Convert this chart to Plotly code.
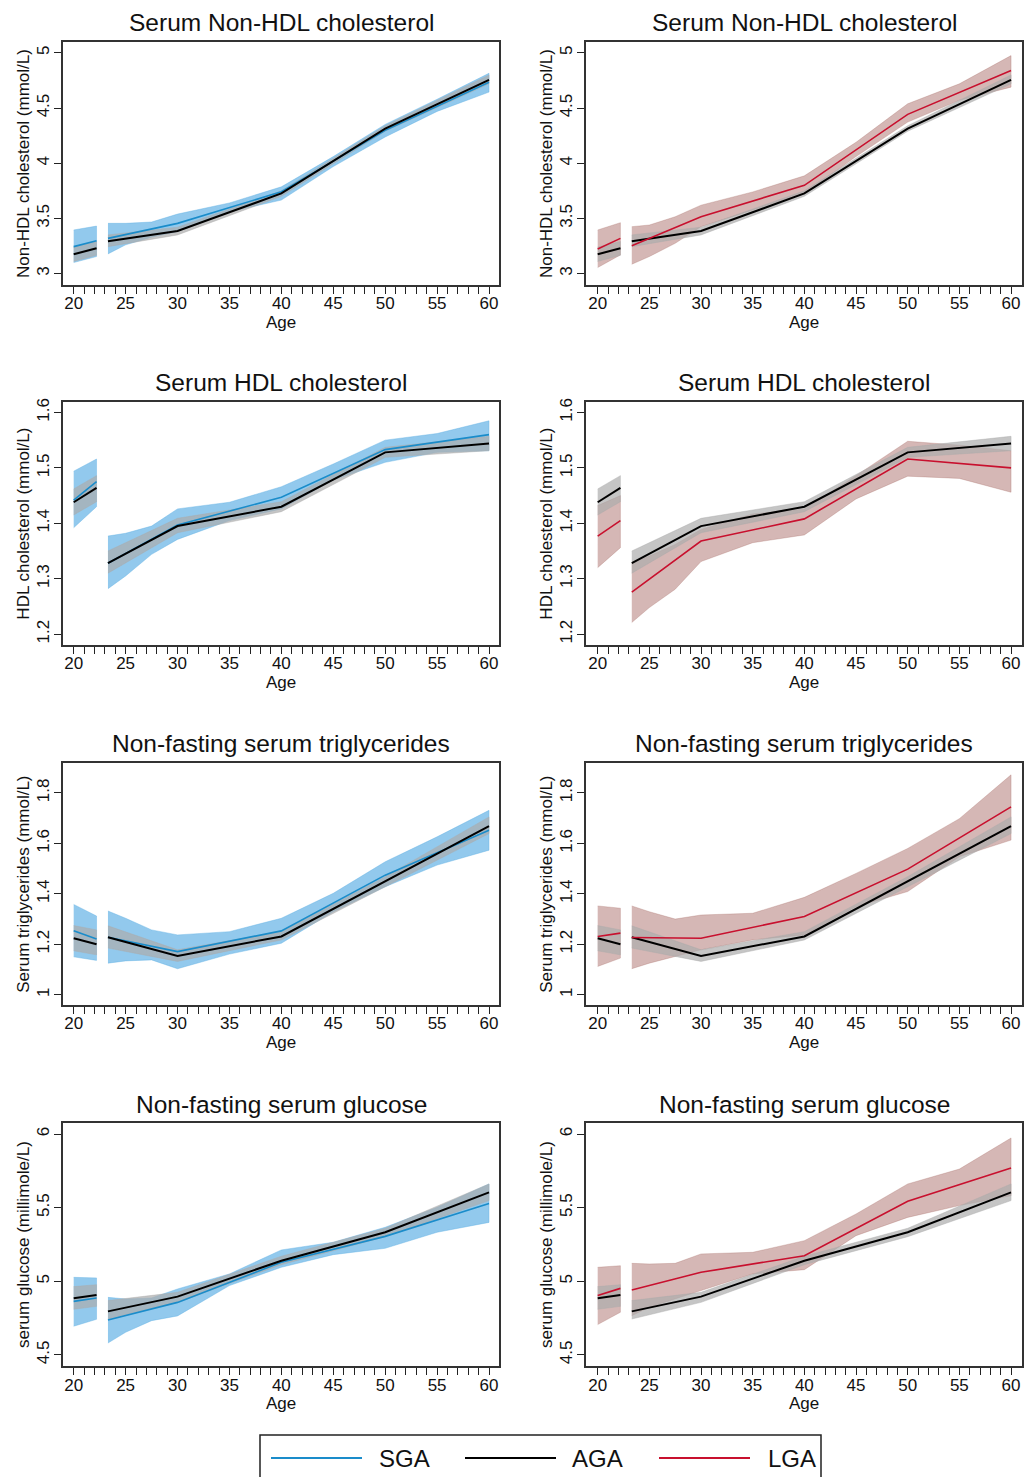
import plotly.graph_objects as go

# ---------------- data ----------------
AGE_S1 = [20, 22.2]                                   # first segment
AGE_S2 = [23.3, 30, 40, 50, 60]                       # second segment (lines, AGA bands)
AGE_B2 = [23.3, 25, 27.5, 30, 35, 40, 45, 50, 55, 60] # second segment (SGA / LGA bands)

X_TICKS = [20, 25, 30, 35, 40, 45, 50, 55, 60]

PANEL_TITLES = ["Serum Non-HDL cholesterol", "Serum HDL cholesterol",
                "Non-fasting serum triglycerides", "Non-fasting serum glucose"]
Y_TITLES = ["Non-HDL cholesterol (mmol/L)", "HDL cholesterol (mmol/L)",
            "Serum triglycerides (mmol/L)", "serum glucose (millimole/L)"]
Y_TICKS = [[3, 3.5, 4, 4.5, 5], [1.2, 1.3, 1.4, 1.5, 1.6],
           [1, 1.2, 1.4, 1.6, 1.8], [4.5, 5, 5.5, 6]]
Y_TICKTEXT = [["3", "3.5", "4", "4.5", "5"], ["1.2", "1.3", "1.4", "1.5", "1.6"],
              ["1", "1.2", "1.4", "1.6", "1.8"], ["4.5", "5", "5.5", "6"]]
Y_RANGES = [[2.894, 5.10], [1.180, 1.619], [0.958, 1.919], [4.423, 6.075]]

# --- Non-HDL cholesterol ---
aga_nonhdl_s1 = [3.175, 3.229]
aga_nonhdl_s1_lo = [3.11, 3.165]
aga_nonhdl_s1_hi = [3.24, 3.29]
aga_nonhdl_s2 = [3.292, 3.386, 3.726, 4.313, 4.756]
aga_nonhdl_s2_lo = [3.244, 3.35, 3.70, 4.29, 4.72]
aga_nonhdl_s2_hi = [3.35, 3.42, 3.75, 4.34, 4.80]

sga_nonhdl_s1 = [3.244, 3.298]
sga_nonhdl_s1_lo = [3.10, 3.154]
sga_nonhdl_s1_hi = [3.395, 3.43]
sga_nonhdl_s2 = [3.319, 3.455, 3.741, 4.298, 4.735]
sga_nonhdl_s2_lo = [3.178, 3.26, 3.33, 3.38, 3.56, 3.666, 3.97, 4.238, 4.47, 4.645]
sga_nonhdl_s2_hi = [3.455, 3.455, 3.467, 3.539, 3.64, 3.786, 4.06, 4.352, 4.58, 4.816]

lga_nonhdl_s1 = [3.223, 3.319]
lga_nonhdl_s1_lo = [3.054, 3.169]
lga_nonhdl_s1_hi = [3.395, 3.461]
lga_nonhdl_s2 = [3.253, 3.515, 3.80, 4.443, 4.84]
lga_nonhdl_s2_lo = [3.084, 3.154, 3.274, 3.425, 3.575, 3.726, 4.06, 4.373, 4.57, 4.69]
lga_nonhdl_s2_hi = [3.425, 3.44, 3.515, 3.62, 3.74, 3.886, 4.19, 4.539, 4.72, 4.976]

# --- HDL cholesterol ---
aga_hdl_s1 = [1.438, 1.464]
aga_hdl_s1_lo = [1.415, 1.439]
aga_hdl_s1_hi = [1.462, 1.486]
aga_hdl_s2 = [1.328, 1.395, 1.430, 1.528, 1.544]
aga_hdl_s2_lo = [1.310, 1.383, 1.421, 1.519, 1.531]
aga_hdl_s2_hi = [1.350, 1.409, 1.439, 1.537, 1.557]

sga_hdl_s1 = [1.442, 1.475]
sga_hdl_s1_lo = [1.392, 1.430]
sga_hdl_s1_hi = [1.494, 1.516]
sga_hdl_s2 = [1.328, 1.397, 1.447, 1.533, 1.560]
sga_hdl_s2_lo = [1.282, 1.305, 1.344, 1.371, 1.405, 1.426, 1.478, 1.510, 1.528, 1.531]
sga_hdl_s2_hi = [1.377, 1.382, 1.395, 1.426, 1.438, 1.466, 1.507, 1.550, 1.562, 1.585]

lga_hdl_s1 = [1.377, 1.405]
lga_hdl_s1_lo = [1.320, 1.356]
lga_hdl_s1_hi = [1.432, 1.450]
lga_hdl_s2 = [1.276, 1.368, 1.408, 1.516, 1.500]
lga_hdl_s2_lo = [1.221, 1.248, 1.281, 1.331, 1.365, 1.379, 1.444, 1.485, 1.481, 1.456]
lga_hdl_s2_hi = [1.329, 1.341, 1.362, 1.389, 1.417, 1.426, 1.486, 1.548, 1.541, 1.531]

# --- Triglycerides ---
aga_tg_s1 = [1.224, 1.200]
aga_tg_s1_lo = [1.174, 1.158]
aga_tg_s1_hi = [1.274, 1.257]
aga_tg_s2 = [1.228, 1.154, 1.231, 1.448, 1.668]
aga_tg_s2_lo = [1.185, 1.132, 1.217, 1.428, 1.639]
aga_tg_s2_hi = [1.273, 1.178, 1.250, 1.468, 1.705]

sga_tg_s1 = [1.254, 1.221]
sga_tg_s1_lo = [1.150, 1.136]
sga_tg_s1_hi = [1.358, 1.312]
sga_tg_s2 = [1.228, 1.171, 1.253, 1.474, 1.652]
sga_tg_s2_lo = [1.125, 1.134, 1.138, 1.103, 1.161, 1.204, 1.329, 1.428, 1.514, 1.573]
sga_tg_s2_hi = [1.332, 1.303, 1.257, 1.237, 1.250, 1.303, 1.402, 1.527, 1.626, 1.731]

lga_tg_s1 = [1.231, 1.244]
lga_tg_s1_lo = [1.112, 1.145]
lga_tg_s1_hi = [1.352, 1.343]
lga_tg_s2 = [1.227, 1.224, 1.310, 1.498, 1.745]
lga_tg_s2_lo = [1.103, 1.125, 1.152, 1.178, 1.217, 1.237, 1.349, 1.409, 1.547, 1.613]
lga_tg_s2_hi = [1.352, 1.329, 1.300, 1.316, 1.323, 1.386, 1.481, 1.580, 1.698, 1.872]

# --- Glucose ---
aga_glu_s1 = [4.885, 4.907]
aga_glu_s1_lo = [4.810, 4.830]
aga_glu_s1_hi = [4.964, 4.977]
aga_glu_s2 = [4.796, 4.896, 5.140, 5.333, 5.604]
aga_glu_s2_lo = [4.744, 4.857, 5.113, 5.303, 5.548]
aga_glu_s2_hi = [4.869, 4.925, 5.170, 5.360, 5.661]

sga_glu_s1 = [4.864, 4.887]
sga_glu_s1_lo = [4.695, 4.742]
sga_glu_s1_hi = [5.027, 5.023]
sga_glu_s2 = [4.738, 4.857, 5.129, 5.305, 5.529]
sga_glu_s2_lo = [4.581, 4.654, 4.733, 4.765, 4.971, 5.095, 5.181, 5.224, 5.333, 5.400]
sga_glu_s2_hi = [4.891, 4.880, 4.887, 4.948, 5.050, 5.213, 5.265, 5.367, 5.502, 5.661]

lga_glu_s1 = [4.903, 4.952]
lga_glu_s1_lo = [4.706, 4.790]
lga_glu_s1_hi = [5.095, 5.106]
lga_glu_s2 = [4.941, 5.061, 5.174, 5.543, 5.769]
lga_glu_s2_lo = [4.767, 4.824, 4.880, 4.937, 5.050, 5.079, 5.310, 5.434, 5.514, 5.581]
lga_glu_s2_hi = [5.122, 5.118, 5.122, 5.186, 5.197, 5.276, 5.457, 5.661, 5.762, 5.973]

# ---------------- styling ----------------
FONT = "Liberation Sans, Arial, Helvetica, sans-serif"
W, H = 1024, 1477
COL_X = [(63, 499), (586, 1022)]
ROW_Y = [(38, 282), (399, 643), (761, 1004), (1122, 1366)]
X_RANGES = [[18.97, 60.96], [18.87, 61.06]]

SGA_LINE, SGA_BAND = "#1a8cca", "rgba(95,175,228,0.68)"
LGA_LINE, LGA_BAND = "#c8102e", "rgba(160,92,86,0.44)"
AGA_LINE, AGA_BAND = "#000000", "rgba(172,172,172,0.70)"

GROUPS = {
    "AGA": dict(line=AGA_LINE, band=AGA_BAND, width=2.0),
    "SGA": dict(line=SGA_LINE, band=SGA_BAND, width=1.6),
    "LGA": dict(line=LGA_LINE, band=LGA_BAND, width=1.6),
}

MEASURES = [
    dict(aga=(aga_nonhdl_s1, aga_nonhdl_s1_lo, aga_nonhdl_s1_hi, aga_nonhdl_s2, aga_nonhdl_s2_lo, aga_nonhdl_s2_hi),
         sga=(sga_nonhdl_s1, sga_nonhdl_s1_lo, sga_nonhdl_s1_hi, sga_nonhdl_s2, sga_nonhdl_s2_lo, sga_nonhdl_s2_hi),
         lga=(lga_nonhdl_s1, lga_nonhdl_s1_lo, lga_nonhdl_s1_hi, lga_nonhdl_s2, lga_nonhdl_s2_lo, lga_nonhdl_s2_hi)),
    dict(aga=(aga_hdl_s1, aga_hdl_s1_lo, aga_hdl_s1_hi, aga_hdl_s2, aga_hdl_s2_lo, aga_hdl_s2_hi),
         sga=(sga_hdl_s1, sga_hdl_s1_lo, sga_hdl_s1_hi, sga_hdl_s2, sga_hdl_s2_lo, sga_hdl_s2_hi),
         lga=(lga_hdl_s1, lga_hdl_s1_lo, lga_hdl_s1_hi, lga_hdl_s2, lga_hdl_s2_lo, lga_hdl_s2_hi)),
    dict(aga=(aga_tg_s1, aga_tg_s1_lo, aga_tg_s1_hi, aga_tg_s2, aga_tg_s2_lo, aga_tg_s2_hi),
         sga=(sga_tg_s1, sga_tg_s1_lo, sga_tg_s1_hi, sga_tg_s2, sga_tg_s2_lo, sga_tg_s2_hi),
         lga=(lga_tg_s1, lga_tg_s1_lo, lga_tg_s1_hi, lga_tg_s2, lga_tg_s2_lo, lga_tg_s2_hi)),
    dict(aga=(aga_glu_s1, aga_glu_s1_lo, aga_glu_s1_hi, aga_glu_s2, aga_glu_s2_lo, aga_glu_s2_hi),
         sga=(sga_glu_s1, sga_glu_s1_lo, sga_glu_s1_hi, sga_glu_s2, sga_glu_s2_lo, sga_glu_s2_hi),
         lga=(lga_glu_s1, lga_glu_s1_lo, lga_glu_s1_hi, lga_glu_s2, lga_glu_s2_lo, lga_glu_s2_hi)),
]


def px_x(x):
    return x / W


def px_y(y):
    return 1 - y / H


fig = go.Figure()


def add_band(xa, ya, xs1, lo1, hi1, xs2, lo2, hi2, color):
    bx = list(xs1) + list(xs1)[::-1] + [None] + list(xs2) + list(xs2)[::-1]
    by = list(hi1) + list(lo1)[::-1] + [None] + list(hi2) + list(lo2)[::-1]
    fig.add_trace(go.Scatter(x=bx, y=by, fill="toself", fillcolor=color,
                             line=dict(width=0.6, color=color), mode="lines",
                             hoverinfo="skip", showlegend=False, xaxis=xa, yaxis=ya))


def add_line(xa, ya, s1, s2, color, width):
    lx = list(AGE_S1) + [None] + list(AGE_S2)
    ly = list(s1) + [None] + list(s2)
    fig.add_trace(go.Scatter(x=lx, y=ly, mode="lines", connectgaps=False,
                             line=dict(color=color, width=width),
                             showlegend=False, xaxis=xa, yaxis=ya))


annotations = []
layout_axes = {}
k = 0
for r, meas in enumerate(MEASURES):
    for c, comp in enumerate(["SGA", "LGA"]):
        k += 1
        xa = "x" if k == 1 else f"x{k}"
        ya = "y" if k == 1 else f"y{k}"
        cdat = meas[comp.lower()]
        adat = meas["aga"]
        g = GROUPS[comp]
        # comparison band, then AGA band on top, then lines
        add_band(xa, ya, AGE_S1, cdat[1], cdat[2], AGE_B2, cdat[4], cdat[5], g["band"])
        add_band(xa, ya, AGE_S1, adat[1], adat[2], AGE_S2, adat[4], adat[5], AGA_BAND)
        if comp == "SGA":
            add_line(xa, ya, cdat[0], cdat[3], g["line"], g["width"])
            add_line(xa, ya, adat[0], adat[3], AGA_LINE, 2.0)
        else:
            add_line(xa, ya, adat[0], adat[3], AGA_LINE, 2.0)
            add_line(xa, ya, cdat[0], cdat[3], g["line"], g["width"])

        x0, x1 = COL_X[c]
        y0, y1 = ROW_Y[r]
        xkey = "xaxis" if k == 1 else f"xaxis{k}"
        ykey = "yaxis" if k == 1 else f"yaxis{k}"
        layout_axes[xkey] = dict(
            domain=[px_x(x0), px_x(x1)], range=X_RANGES[c], anchor=ya,
            tickmode="array", tickvals=X_TICKS, ticktext=[str(t) for t in X_TICKS],
            ticks="outside", ticklen=7, tickwidth=1.3, tickcolor="#222",
            ticklabelstandoff=-5,
            minor=dict(tickmode="array", tickvals=list(range(20, 61)), ticks="outside",
                       ticklen=7, tickwidth=1.3, tickcolor="#222", showgrid=False),
            showline=True, mirror=True, linecolor="#333", linewidth=1.6,
            showgrid=False, zeroline=False,
            tickfont=dict(family=FONT, size=17, color="#111"),
            title=dict(text="Age", font=dict(family=FONT, size=17, color="#111"), standoff=0),
        )
        layout_axes[ykey] = dict(
            domain=[px_y(y1), px_y(y0)], range=Y_RANGES[r], anchor=xa,
            tickmode="array", tickvals=Y_TICKS[r], ticktext=Y_TICKTEXT[r], tickangle=-90,
            ticks="outside", ticklen=7, tickwidth=1.3, tickcolor="#222",
            ticklabelstandoff=-2,
            showline=True, mirror=True, linecolor="#333", linewidth=1.6,
            showgrid=False, zeroline=False,
            tickfont=dict(family=FONT, size=17, color="#111"),
            title=dict(text=Y_TITLES[r], font=dict(family=FONT, size=17, color="#111"), standoff=0),
        )
        annotations.append(dict(
            text=PANEL_TITLES[r], xref="paper", yref="paper",
            x=px_x((x0 + x1) / 2), y=px_y(y0 - 19), xanchor="center", yanchor="middle",
            showarrow=False, font=dict(family=FONT, size=24.5, color="#111")))

# legend (drawn as a boxed key at the bottom)
LEGEND_ITEMS = [("SGA", SGA_LINE, 271, 362, 377), ("AGA", AGA_LINE, 465, 556, 570),
                ("LGA", LGA_LINE, 659, 750, 766)]
shapes = [dict(type="rect", xref="paper", yref="paper",
               x0=px_x(260), x1=px_x(821), y0=px_y(1490), y1=px_y(1435),
               line=dict(color="#222", width=1.5), fillcolor="rgba(0,0,0,0)")]
for name, col, lx0, lx1, tx in LEGEND_ITEMS:
    shapes.append(dict(type="line", xref="paper", yref="paper",
                       x0=px_x(lx0), x1=px_x(lx1), y0=px_y(1458), y1=px_y(1458),
                       line=dict(color=col, width=2)))
    annotations.append(dict(text=name, xref="paper", yref="paper", x=px_x(tx), y=px_y(1458),
                            xanchor="left", yanchor="middle", showarrow=False,
                            font=dict(family=FONT, size=24, color="#111")))

fig.update_layout(
    width=W, height=H, autosize=False,
    margin=dict(l=0, r=0, t=0, b=0),
    paper_bgcolor="white", plot_bgcolor="white",
    showlegend=False, annotations=annotations, shapes=shapes,
    font=dict(family=FONT, color="#111"),
    **layout_axes,
)

fig.write_html("out.html", config={"displayModeBar": False},
               post_script="document.body.style.margin='0';document.body.style.overflow='hidden';")
